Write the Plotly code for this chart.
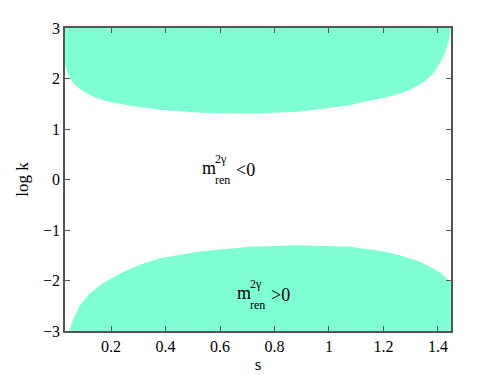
import plotly.graph_objects as go

# upper boundary of the m^2 < 0 band (log k vs s), region above is filled
s_upper = [0.031, 0.043, 0.062, 0.086, 0.123, 0.16, 0.20, 0.27, 0.38, 0.53, 0.71, 0.89,
           1.08, 1.114, 1.175, 1.236, 1.297, 1.346, 1.383, 1.407, 1.426, 1.438, 1.448]
logk_upper = [2.27, 2.07, 1.90, 1.79, 1.67, 1.59, 1.53, 1.46, 1.38, 1.32, 1.30, 1.34,
              1.47, 1.52, 1.59, 1.66, 1.77, 1.92, 2.10, 2.30, 2.50, 2.70, 3.0]

# lower region boundary, region below is filled
s_lower = [0.047, 0.062, 0.086, 0.123, 0.16, 0.233, 0.306, 0.38, 0.53, 0.71, 0.89,
           1.08, 1.114, 1.187, 1.26, 1.334, 1.383, 1.42, 1.438, 1.448]
logk_lower = [-3.0, -2.75, -2.49, -2.25, -2.09, -1.86, -1.69, -1.56, -1.42, -1.33, -1.30,
              -1.33, -1.36, -1.41, -1.50, -1.63, -1.76, -1.89, -1.99, -2.02]

s_range = [0.031, 1.448]
logk_range = [-3, 3]
x_ticks = [0.2, 0.4, 0.6, 0.8, 1, 1.2, 1.4]
y_ticks = [-3, -2, -1, 0, 1, 2, 3]

FILL = '#7FFFD4'
FONT = 'Liberation Serif'
AXIS = '#555555'

fig = go.Figure()
fig.add_scatter(x=s_upper + [s_range[1], s_range[0]],
                y=logk_upper + [logk_range[1], logk_range[1]],
                fill='toself', fillcolor=FILL, mode='lines', line_width=0)
fig.add_scatter(x=s_lower + [s_range[1]],
                y=logk_lower + [logk_range[0]],
                fill='toself', fillcolor=FILL, mode='lines', line_width=0)
fig.update_traces(showlegend=False, hoverinfo='skip')

# page has an 8px body margin; plot area in page pixels: x 65..451, y 28..331
OFF = 8
W, H = 498 - OFF, 375 - OFF
L, R, T, B = 65, 451, 28, 331


def px(x, y):
    return (x - L) / (R - L), (B - y) / (B - T)


def label(left, mid, rel):
    pieces = [('m', 18, left, mid - 1.5),
              ('2γ', 12, left + 13, mid - 11),
              ('ren', 12, left + 13, mid + 10.5),
              (rel, 18, left + 34, mid)]
    for txt, size, x, y in pieces:
        ax, ay = px(x, y)
        fig.add_annotation(text=txt, x=ax, y=ay, xref='paper', yref='paper',
                           xanchor='left', yanchor='middle', showarrow=False,
                           font=dict(family=FONT, size=size, color='black'))


label(200, 169.5, '&lt;0')
label(234.5, 294.5, '&gt;0')

tickfont = dict(family=FONT, size=16, color='black')
fig.update_xaxes(range=s_range, tickvals=x_ticks, ticktext=[f'{v:g}' for v in x_ticks],
                 tickfont=tickfont,
                 ticks='inside', ticklen=5, tickcolor=AXIS, mirror='ticks', automargin=False,
                 showline=True, linecolor=AXIS, linewidth=1.5, showgrid=False, zeroline=False,
                 title=dict(text='s', font=dict(family=FONT, size=17), standoff=4))
fig.update_yaxes(range=logk_range, tickvals=y_ticks,
                 ticktext=[str(v).replace('-', '\u2212') for v in y_ticks],
                 tickfont=tickfont,
                 ticks='inside', ticklen=5, tickcolor=AXIS, mirror='ticks', automargin=False,
                 showline=True, linecolor=AXIS, linewidth=1.5, showgrid=False, zeroline=False,
                 title=dict(text='log k', font=dict(family=FONT, size=17), standoff=10))
fig.update_layout(width=W, height=H, plot_bgcolor='white', paper_bgcolor='white',
                  margin=dict(l=L - OFF, r=498 - R, t=T - OFF, b=375 - B),
                  font=dict(family=FONT, size=16, color='black'))

fig.write_html("out.html")
